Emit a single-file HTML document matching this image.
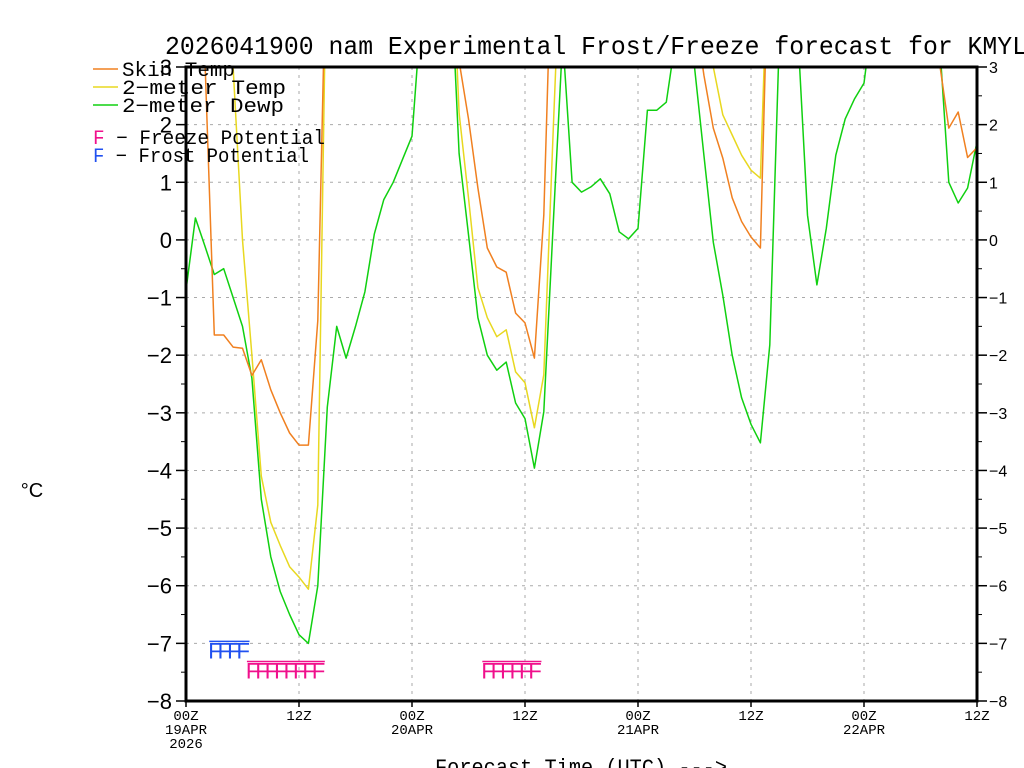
<!DOCTYPE html>
<html><head><meta charset="utf-8">
<style>
html,body{margin:0;padding:0;background:#fff;}
svg{display:block;font-family:"Liberation Sans",sans-serif;}
.mono{font-family:"Liberation Mono",monospace;}
</style></head>
<body>
<svg id="chart" width="1024" height="768" viewBox="0 0 1024 768">
<defs><clipPath id="plotclip"><rect x="186" y="67" width="791" height="634"/></clipPath></defs>
<text class="mono" x="165" y="54" textLength="862" lengthAdjust="spacingAndGlyphs" font-size="26" fill="#000">2026041900 nam Experimental Frost/Freeze forecast for KMYL</text>
<g id="grid"></g>
<g id="series" clip-path="url(#plotclip)"></g>
<g id="axes"></g>
<g id="marks"></g>
<g id="legend" class="mono">
  <line x1="93" y1="69" x2="118" y2="69" stroke="#f08020" stroke-width="1.5"/>
  <text x="122" y="76" font-size="20" textLength="113" lengthAdjust="spacingAndGlyphs">Skin Temp</text>
  <line x1="93" y1="87" x2="118" y2="87" stroke="#e8d820" stroke-width="1.5"/>
  <text x="122" y="94" font-size="20" textLength="164" lengthAdjust="spacingAndGlyphs">2−meter Temp</text>
  <line x1="93" y1="105" x2="118" y2="105" stroke="#10d010" stroke-width="1.5"/>
  <text x="122" y="112" font-size="20" textLength="162" lengthAdjust="spacingAndGlyphs">2−meter Dewp</text>
  <text x="93" y="144" font-size="20" textLength="232" lengthAdjust="spacingAndGlyphs"><tspan fill="#f0108c">F</tspan> − Freeze Potential</text>
  <text x="93" y="162" font-size="20" textLength="216" lengthAdjust="spacingAndGlyphs"><tspan fill="#2050f0">F</tspan> − Frost Potential</text>
</g>
<text x="32" y="497" text-anchor="middle" font-size="20">°C</text>
<text class="mono" x="435" y="774" textLength="292" lengthAdjust="spacingAndGlyphs" font-size="22">Forecast Time (UTC) ---&gt;</text>
</svg>
<script>
const yTicks=[3,2,1,0,-1,-2,-3,-4,-5,-6,-7,-8];
const xTickHours=[0,12,24,36,48,60,72,84];
const xTickLabels=[["00Z","19APR","2026"],["12Z"],["00Z","20APR"],["12Z"],["00Z","21APR"],["12Z"],["00Z","22APR"],["12Z"]];
const skinTemp=[6,6,3.2,-1.65,-1.65,-1.86,-1.88,-2.35,-2.08,-2.6,-3.0,-3.35,-3.56,-3.56,-1.4,6,6,6,6,6,6,6,6,6,6,6,6,6,6,3.1,2.1,0.9,-0.14,-0.47,-0.56,-1.27,-1.44,-2.05,0.43,6,6,6,6,6,6,6,6,6,6,6,6,6,6,6,4,2.86,1.94,1.42,0.73,0.32,0.05,-0.14,6,6,6,6,6,6,6,6,6,6,6,6,6,6,6,6,6,6,3.1,1.94,2.22,1.43,1.6];
const temp2m=[6,6,6,6,6,3.0,0.0,-2.0,-4.1,-4.9,-5.3,-5.67,-5.85,-6.06,-4.6,6,6,6,6,6,6,6,6,6,6,6,6,6,6,2.2,0.73,-0.83,-1.35,-1.68,-1.56,-2.29,-2.48,-3.26,-2.34,1.94,6,6,6,6,6,6,6,6,6,6,6,6,6,6,6,6,3.0,2.17,1.82,1.47,1.21,1.07,6,6,6,6,6,6,6,6,6,6,6,6,6,6,6,6,6,6,6,6,6,6,6];
const dewp2m=[-0.87,0.38,-0.1,-0.6,-0.5,-1.0,-1.5,-2.4,-4.5,-5.5,-6.1,-6.5,-6.85,-7.0,-6.0,-2.9,-1.5,-2.05,-1.5,-0.9,0.1,0.7,1.0,1.4,1.8,4,6,6,5,1.5,0.09,-1.35,-2.0,-2.26,-2.12,-2.83,-3.1,-3.96,-2.98,0.3,3.5,1.0,0.83,0.92,1.06,0.8,0.14,0.02,0.2,2.25,2.25,2.39,3.5,4,3.0,1.47,-0.04,-0.96,-2.0,-2.74,-3.2,-3.52,-1.82,3.5,5,3.5,0.43,-0.78,0.2,1.47,2.1,2.45,2.72,4,6,6,6,6,6,6,3.5,1.0,0.64,0.9,1.7];
const frostHours=[3,4,5,6];
const freezeHours=[7,8,9,10,11,12,13,14,32,33,34,35,36,37];

const X0=186,X1=977,Y0=67,Y1=701,HMAX=84,VMAX=3,VMIN=-8;
function xs(h){return X0+(X1-X0)*h/HMAX;}
function ys(v){return Y0+(Y1-Y0)*(VMAX-v)/(VMAX-VMIN);}
const NS="http://www.w3.org/2000/svg";
function mk(tag,attrs,parent){const e=document.createElementNS(NS,tag);for(const k in attrs)e.setAttribute(k,attrs[k]);parent.appendChild(e);return e;}
const grid=document.getElementById('grid'),axes=document.getElementById('axes'),series=document.getElementById('series'),marks=document.getElementById('marks');

yTicks.forEach(v=>{
  const y=ys(v);
  if(v<VMAX&&v>VMIN){const g=mk('line',{x1:X0,x2:X1,y1:y,y2:y,stroke:'#aaa','stroke-width':1,'stroke-dasharray':'3,5'},grid);
  
  }
  const t1=mk('line',{x1:X0-10,x2:X0,y1:y,y2:y,stroke:'#000','stroke-width':1.5},axes);
  
  
  const t2=mk('line',{x1:X1,x2:X1+10,y1:y,y2:y,stroke:'#000','stroke-width':1.5},axes);
  
  
  const lab=(v<0?'−':'')+Math.abs(v);
  const l=mk('text',{x:X0-14,y:y+8,'text-anchor':'end','font-size':22},axes);l.textContent=lab;
  
  
  const r=mk('text',{x:X1+12,y:y+6,'font-size':16},axes);r.textContent=lab;
  
  
  if(v>VMIN){const ym=ys(v-0.5);
   const m1=mk('line',{x1:X0-5,x2:X0,y1:ym,y2:ym,stroke:'#000','stroke-width':1},axes);
   
   
   const m2=mk('line',{x1:X1,x2:X1+5,y1:ym,y2:ym,stroke:'#000','stroke-width':1},axes);
   
   }
});
xTickHours.forEach((h,i)=>{
  const x=xs(h);
  if(h>0&&h<HMAX){const g=mk('line',{x1:x,x2:x,y1:Y0,y2:Y1,stroke:'#aaa','stroke-width':1,'stroke-dasharray':'3,5'},grid);
  
  }
  const t=mk('line',{x1:x,x2:x,y1:Y1,y2:Y1+6,stroke:'#000','stroke-width':1.5},axes);
  
  
  xTickLabels[i].forEach((s,j)=>{
    const l=mk('text',{x:x,y:Y1+19+j*14,'text-anchor':'middle','font-size':14,'font-family':'Liberation Mono, monospace'},axes);l.textContent=s;
    
    
  });
});
const frame=mk('rect',{x:X0,y:Y0,width:X1-X0,height:Y1-Y0,fill:'none',stroke:'#000','stroke-width':3},axes);



function line(data,color,name){
  const pts=data.map((v,h)=>xs(h).toFixed(1)+','+ys(v).toFixed(1)).join(' ');
  const p=mk('polyline',{points:pts,fill:'none',stroke:color,'stroke-width':1.5,'stroke-linejoin':'round'},series);
  
  
}
line(dewp2m,'#10d010','dewpoint-line');
line(temp2m,'#e8d820','temp-2m-line');
line(skinTemp,'#f08020','skin-temp-line');

function fRow(hours,color,yv,name){
  const groups=[];let cur=[];
  hours.forEach((h,i)=>{if(i>0&&h!==hours[i-1]+1){groups.push(cur);cur=[];}cur.push(h);});
  if(cur.length)groups.push(cur);
  groups.forEach(g=>{
    const y=ys(yv);
    const ol=mk('line',{x1:xs(g[0])-5,x2:xs(g[g.length-1])+7,y1:y-2,y2:y-2,stroke:color,'stroke-width':1.5},marks);
    
    
    g.forEach(h=>{
      const t=mk('text',{x:xs(h)-6,y:y+15,'font-size':22,fill:color},marks);t.textContent='F';
      
      
    });
  });
}
fRow(frostHours,'#2050f0',-7.0,'frost-marker');
fRow(freezeHours,'#f0108c',-7.35,'freeze-marker');
</script>
</body></html>
